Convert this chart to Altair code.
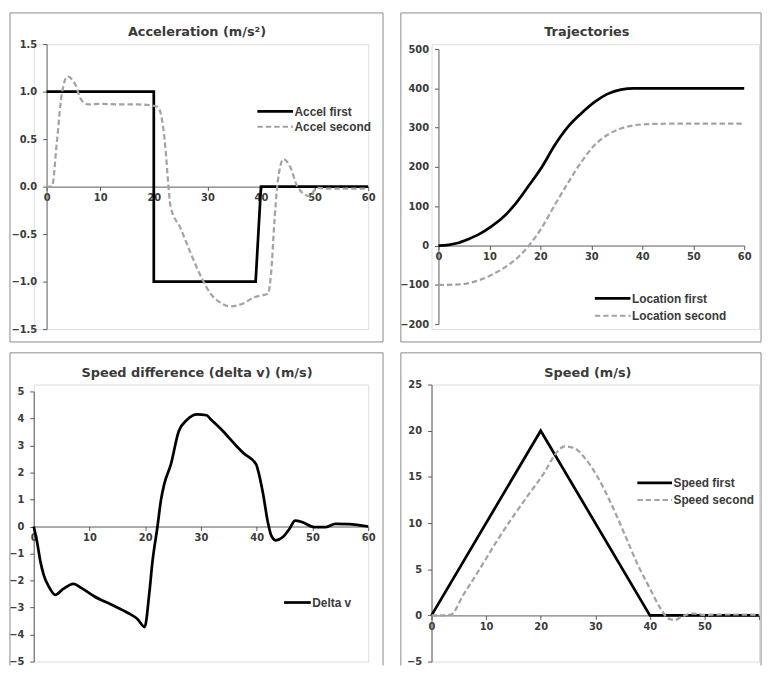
import altair as alt
import pandas as pd

# ---------------- data ----------------
titles = ["Acceleration (m/s²)", "Trajectories",
          "Speed difference (delta v) (m/s)", "Speed (m/s)"]

x_ticks = [0, 10, 20, 30, 40, 50, 60]

acc_first_t = [0, 20, 20, 39, 40, 60]
acc_first_v = [1, 1, -1, -1, 0, 0]
acc_second_t = [0, 1, 1.9, 2.8, 3.9, 5.3, 6.5, 7.75, 10, 14, 17, 20, 20.7, 21.3,
                22.2, 22.6, 23.1, 25, 26.8, 29, 30.5, 32.4, 34.2, 36.7, 38.5,
                40.5, 41.3, 41.9, 42.5, 43.1, 44.2, 45.5, 46.8, 49, 50.5, 52,
                55, 60]
acc_second_v = [0, 0, 0.46, 0.96, 1.16, 1.08, 0.91, 0.865, 0.87, 0.865, 0.865,
                0.85, 0.84, 0.77, 0.39, 0.1, -0.2, -0.44, -0.69, -0.97, -1.12,
                -1.22, -1.26, -1.23, -1.17, -1.14, -1.13, -0.9, -0.37, 0.04,
                0.29, 0.2, 0.0, -0.10, -0.01, -0.02, -0.02, -0.02]

loc_first_t = [0, 2, 4, 6, 8, 10.2, 12.5, 15.1, 17.7, 20.3, 22.9, 25.4, 28,
               30.6, 33.2, 35.8, 38.4, 40.3, 45, 60]
loc_first_v = [0, 2, 7, 17, 29, 47, 70, 106, 152, 200, 257, 302, 336, 365,
               386, 397, 400, 400, 400, 400]
loc_second_t = [0, 4, 8, 10.2, 13.1, 15.7, 18, 20.3, 22.9, 25.4, 28, 30.6,
                33.2, 35.8, 38.4, 41, 45, 60]
loc_second_v = [-100, -99, -88, -76, -55, -29, 4, 46, 105, 159, 212, 255, 282,
                298, 306, 309, 310, 310]

dv_t = [0, 0.6, 1.2, 1.8, 2.7, 3.85, 5.3, 7.1, 8.6, 10.9, 13.9, 16.9, 18.6,
        19.9, 20.7, 21.3, 22.2, 22.8, 23.4, 24.6, 26, 27.5, 29.3, 31, 31.7, 34,
        36.4, 37.6, 39.9, 40.2, 41.1, 42, 42.6, 43.4, 44.7, 45.9, 46.9, 48.2,
        50.3, 52.4, 54.1, 56.5, 60]
dv_v = [0, -0.57, -1.3, -1.8, -2.22, -2.53, -2.31, -2.12, -2.28, -2.59, -2.89,
        -3.2, -3.42, -3.72, -2.53, -1.3, 0.0, 0.95, 1.56, 2.3, 3.52, 3.95,
        4.15, 4.12, 3.98, 3.52, 2.97, 2.72, 2.30, 2.11, 1.26, 0.16, -0.33,
        -0.51, -0.39, -0.08, 0.22, 0.16, -0.02, -0.02, 0.1, 0.09, 0.0]

spd_first_t = [0, 20, 40, 60]
spd_first_v = [0, 20, 0, 0]
spd_second_t = [0, 2, 3.6, 5.7, 8.7, 11.7, 14.7, 17.8, 20.8, 22.6, 24.4, 26.2,
                28, 30.5, 32.9, 35.3, 37.7, 40.1, 41.9, 43.4, 44.6, 45.9, 48,
                50, 53, 56, 60]
spd_second_v = [0, 0, 0.1, 2.1, 4.9, 7.8, 10.5, 13.1, 15.6, 17.4, 18.3, 18.1,
                17.1, 14.9, 12.1, 8.9, 5.6, 2.8, 0.8, -0.35, -0.5, -0.1, 0.2,
                0.05, 0.1, 0.1, 0.05]

legend_labels = [["Accel first", "Accel second"],
                 ["Location first", "Location second"],
                 ["Delta v"],
                 ["Speed first", "Speed second"]]

# ---------------- styling ----------------
TXT = "#3a3a3a"
AX = "#595959"
FRAME = "#8a8a8a"
SOLID = dict(color="black", strokeWidth=2.75)
DASH = dict(color="#a3a3a3", strokeWidth=2.25, strokeDash=[5.5, 3])
TICK_FONT = "DejaVu Sans"
LEG_FONT = "Liberation Sans"


def one(**kw):
    return pd.DataFrame({k: [v] for k, v in kw.items()})


def make_panel(title, tpos, series, legend, ydom, yticks, yfmt,
               W, H, xrange, yrange, frame, hide_last_x=False):
    xdom = [0, 60]
    xs = alt.Scale(domain=xdom, range=xrange, nice=False, zero=False)
    ys = alt.Scale(domain=ydom, range=yrange, nice=False, zero=False)

    def ypix(v):
        return yrange[0] + (v - ydom[0]) / (ydom[1] - ydom[0]) * (yrange[1] - yrange[0])

    def xpix(v):
        return xrange[0] + (v - xdom[0]) / (xdom[1] - xdom[0]) * (xrange[1] - xrange[0])

    common = dict(grid=False, title=None, domainColor=AX, tickColor=AX,
                  tickSize=4, labelFont=TICK_FONT, labelFontSize=10,
                  labelFontWeight="bold", labelColor=TXT, labelFlush=False,
                  labelOverlap=False, labelBound=False)
    xextra = {}
    if hide_last_x:
        xextra["labelExpr"] = "datum.value == 60 ? '' : datum.label"
    xaxis = alt.Axis(values=x_ticks, offset=ypix(0) - H, labelPadding=2,
                     **common, **xextra)
    yaxis = alt.Axis(values=yticks, format=yfmt, offset=-xpix(0), labelPadding=6, **common)

    layers = []
    # frame
    fl, fr, ft, fb, fbot = frame
    xr = fr if fr is not None else W + 2
    if fb is not None:
        layers.append(alt.Chart(one(f=1)).mark_rule(color=FRAME, strokeWidth=1).encode(
            x=alt.value(fl), x2=alt.value(xr), y=alt.value(fb)))
    layers.append(alt.Chart(one(f=1)).mark_rule(color=FRAME, strokeWidth=1).encode(
        x=alt.value(fl), x2=alt.value(xr), y=alt.value(ft)))
    ybot = fb if fb is not None else fbot
    layers.append(alt.Chart(one(f=1)).mark_rule(color=FRAME, strokeWidth=1).encode(
        x=alt.value(fl), y=alt.value(ft), y2=alt.value(ybot)))
    if fr is not None:
        layers.append(alt.Chart(one(f=1)).mark_rule(color=FRAME, strokeWidth=1).encode(
            x=alt.value(fr), y=alt.value(ft), y2=alt.value(ybot)))

    for k, (t, v, style, interp) in enumerate(series):
        assert len(t) == len(v)
        df = pd.DataFrame({"t": t, "v": v, "i": list(range(len(t)))})
        layers.append(alt.Chart(df).mark_line(interpolate=interp, **style).encode(
            x=alt.X("t:Q", scale=xs, axis=xaxis),
            y=alt.Y("v:Q", scale=ys, axis=yaxis),
            order="i:Q"))

    # title
    layers.append(alt.Chart(one(title=title)).mark_text(
        font=TICK_FONT, fontSize=13, fontWeight="bold", color=TXT,
        align="center", baseline="alphabetic").encode(
        x=alt.value(tpos[0]), y=alt.value(tpos[1]), text="title:N"))

    # legend
    lx0, lx1, ly0, dy = legend["geom"]
    for k, (lab, style) in enumerate(zip(legend["labels"], legend["styles"])):
        yy = ly0 + k * dy
        layers.append(alt.Chart(one(label=lab)).mark_rule(**style).encode(
            x=alt.value(lx0), x2=alt.value(lx1), y=alt.value(yy)))
        layers.append(alt.Chart(one(label=lab)).mark_text(
            font=LEG_FONT, fontSize=12, fontWeight="bold", color=TXT,
            align="left", baseline="middle").encode(
            x=alt.value(lx1 + 1.5), y=alt.value(yy + 0.5), text="label:N"))

    return alt.layer(*layers).properties(width=W, height=H)


p1 = make_panel(
    titles[0], (165, -8), [(acc_first_t, acc_first_v, SOLID, "linear"),
                           (acc_second_t, acc_second_v, DASH, "monotone")],
    {"labels": legend_labels[0], "styles": [SOLID, DASH], "geom": (226, 262, 68, 15.5)},
    [-1.5, 1.5], [-1.5, -1.0, -0.5, 0.0, 0.5, 1.0, 1.5], ".1f",
    338, 288, [13, 338], [288, 0], (-24, 353, -31.5, 301, None))

p2 = make_panel(
    titles[1], (157, -8), [(loc_first_t, loc_first_v, SOLID, "monotone"),
                           (loc_second_t, loc_second_v, DASH, "monotone")],
    {"labels": legend_labels[1], "styles": [SOLID, DASH], "geom": (165, 201, 257, 17.5)},
    [-200, 500], [-200, -100, 0, 100, 200, 300, 400, 500], "d",
    331, 288, [7, 316], [283, 5], (-31, 333, -31.5, 301, None))

p3 = make_panel(
    titles[2], (165, -7.3), [(dv_t, dv_v, SOLID, "monotone")],
    {"labels": legend_labels[2], "styles": [SOLID], "geom": (253, 280, 220.3, 0)},
    [-5, 5], list(range(-5, 6)), "d",
    338, 280, [0, 338], [280, 7], (-24, 353, -32, None, 284))

p4 = make_panel(
    titles[3], (158, -7.3), [(spd_first_t, spd_first_v, SOLID, "linear"),
                             (spd_second_t, spd_second_v, DASH, "monotone")],
    {"labels": legend_labels[3], "styles": [SOLID, DASH], "geom": (208, 243, 99.3, 17.4)},
    [-5, 25], [-5, 0, 5, 10, 15, 20, 25], "d",
    331, 280, [0, 331], [280, 0], (-31, 333, -32, None, 284), hide_last_x=True)

chart = alt.concat(p1, p2, p3, p4, columns=2,
                   spacing={"row": 56, "column": 64},
                   bounds="flush", padding=0)
chart = chart.configure_view(stroke="transparent", strokeWidth=0).configure(
    background="white")

chart.save("out.html", embed_options={"renderer": "svg", "actions": False})
